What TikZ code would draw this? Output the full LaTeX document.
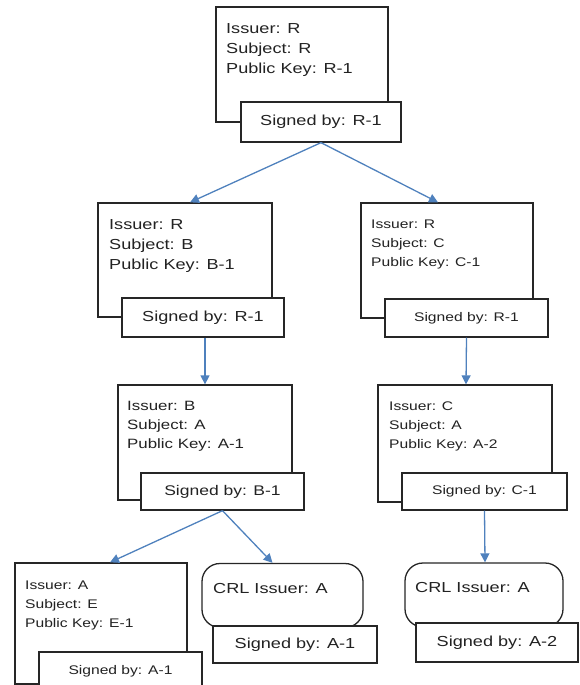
\documentclass[tikz,border=0pt]{standalone}
\usepackage{fontspec}
\usetikzlibrary{arrows.meta}
\newfontfamily\wf[FakeStretch=1.25]{Liberation Sans}
\definecolor{arrowblue}{HTML}{4F81BD}
\definecolor{txt}{HTML}{222222}
\tikzset{
  certbox/.style={draw=black!85, line width=1.3pt, fill=white, inner sep=0pt},
  crlbox/.style={draw=black!85, line width=1.3pt, fill=white, inner sep=0pt, rounded corners=18pt},
  sigbox/.style={draw=black!85, line width=1.3pt, fill=white, inner sep=0pt, text=txt},
  line/.style={anchor=base west, inner sep=0pt, text=txt},
  big/.style={font=\wf\fontsize{14.5}{16}\selectfont},
  mid/.style={font=\wf\fontsize{13.5}{15}\selectfont},
  small/.style={font=\wf\fontsize{12.5}{14}\selectfont},
  link/.style={draw=arrowblue, line width=1.3pt, -{Triangle[length=9pt,width=9pt]}}
}
\begin{document}
\begin{tikzpicture}[x=1pt,y=-1pt]
\useasboundingbox (0,0) rectangle (579,685);
% ---------- top R ----------
\node[certbox, minimum width=172pt, minimum height=115pt] (R) at (302,64.5) {};
\node[line,big] (R1) at (226,34) {Issuer: R};
\node[line,big] (R2) at (226,54) {Subject: R};
\node[line,big] (R3) at (226,74) {Public Key: R-1};
\node[sigbox,big, minimum width=160pt, minimum height=40pt] (sR) at (321,122) {Signed by: R-1};
% ---------- B ----------
\node[certbox, minimum width=174pt, minimum height=114pt] (B) at (185,260) {};
\node[line,big] (B1) at (109,229) {Issuer: R};
\node[line,big] (B2) at (109,249) {Subject: B};
\node[line,big] (B3) at (109,269) {Public Key: B-1};
\node[sigbox,big, minimum width=162pt, minimum height=39pt] (sB) at (203,317.5) {Signed by: R-1};
% ---------- C ----------
\node[certbox, minimum width=172pt, minimum height=115pt] (C) at (447,260.5) {};
\node[line,small] (C1) at (371,228) {Issuer: R};
\node[line,small] (C2) at (371,247) {Subject: C};
\node[line,small] (C3) at (371,266) {Public Key: C-1};
\node[sigbox,small, minimum width=163pt, minimum height=38pt] (sC) at (466.5,318) {Signed by: R-1};
% ---------- A (from B) ----------
\node[certbox, minimum width=174pt, minimum height=115pt] (AB) at (205,442.5) {};
\node[line,mid] (AB1) at (127,410) {Issuer: B};
\node[line,mid] (AB2) at (127,429) {Subject: A};
\node[line,mid] (AB3) at (127,448) {Public Key: A-1};
\node[sigbox,font=\wf\fontsize{14}{15}\selectfont, minimum width=163pt, minimum height=37pt] (sAB) at (222.5,491.5) {Signed by: B-1};
% ---------- A (from C) ----------
\node[certbox, minimum width=174pt, minimum height=117pt] (AC) at (465,443.5) {};
\node[line,small] (AC1) at (389,410) {Issuer: C};
\node[line,small] (AC2) at (389,429) {Subject: A};
\node[line,small] (AC3) at (389,448) {Public Key: A-2};
\node[sigbox,small, minimum width=165pt, minimum height=37pt] (sAC) at (484.5,491.5) {Signed by: C-1};
% ---------- E ----------
\node[certbox, minimum width=172pt, minimum height=121pt] (E) at (101,623.5) {};
\node[line,small] (E1) at (25,589) {Issuer: A};
\node[line,small] (E2) at (25,608) {Subject: E};
\node[line,small] (E3) at (25,627) {Public Key: E-1};
\node[sigbox,small, minimum width=163pt, minimum height=38pt] (sE) at (120.5,671) {Signed by: A-1};
% ---------- CRL middle ----------
\node[crlbox, minimum width=161pt, minimum height=64pt] (CRLm) at (282.5,595.5) {};
\node[line,big] (CRLm1) at (213,593) {CRL Issuer: A};
\node[sigbox,big, minimum width=164pt, minimum height=37pt] (sCRLm) at (295,644.5) {Signed by: A-1};
% ---------- CRL right ----------
\node[crlbox, minimum width=158pt, minimum height=64pt] (CRLr) at (484,595) {};
\node[line,big] (CRLr1) at (415,592) {CRL Issuer: A};
\node[sigbox,big, minimum width=162pt, minimum height=39pt] (sCRLr) at (497,642.5) {Signed by: A-2};
% ---------- links ----------
\draw[link] (sR.south) -- ([xshift=5pt]B.north);
\draw[link] (sR.south) -- ([xshift=-9pt]C.north);
\draw[link] ([xshift=2pt]sB.south) -- (AB.north);
\draw[link] (sC.south) -- ([xshift=1pt]AC.north);
\draw[link] (sAB.south) -- ([xshift=9pt]E.north);
\draw[link] (sAB.south) -- ([xshift=-10pt]CRLm.north);
\draw[link] (sAC.south) -- ([xshift=1pt]CRLr.north);
\end{tikzpicture}
\end{document}
